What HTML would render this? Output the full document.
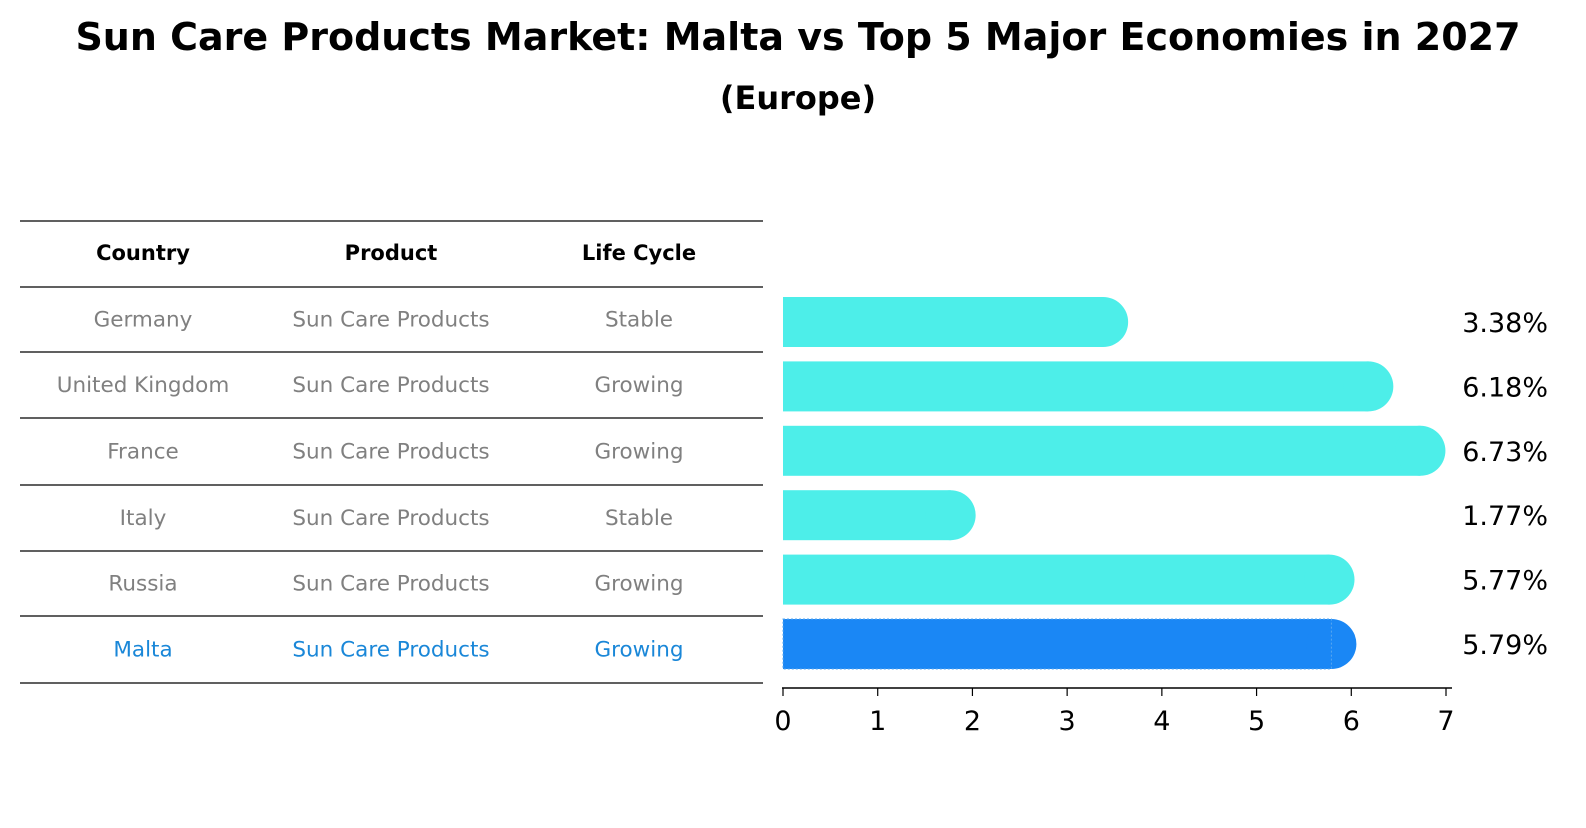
<!DOCTYPE html>
<html><head><meta charset="utf-8"><style>
body{margin:0;background:#fff;width:1586px;height:823px;overflow:hidden}
svg{font-family:"DejaVu Sans","Liberation Sans",sans-serif}
</style></head><body>
<svg width="1586" height="823" xmlns="http://www.w3.org/2000/svg">
<text x="798" y="50" text-anchor="middle" font-size="38" font-weight="bold">Sun Care Products Market: Malta vs Top 5 Major Economies in 2027</text>
<text x="798" y="109" text-anchor="middle" font-size="32" font-weight="bold">(Europe)</text>
<g id="table"></g>
<g id="bars"></g>
<g id="axis"></g>
</svg>
<script>
const countries=["Germany","United Kingdom","France","Italy","Russia","Malta"];
const products=["Sun Care Products","Sun Care Products","Sun Care Products","Sun Care Products","Sun Care Products","Sun Care Products"];
const lifecycles=["Stable","Growing","Growing","Stable","Growing","Growing"];
const values=[3.38,6.18,6.73,1.77,5.77,5.79];
const ticks=[0,1,2,3,4,5,6,7];
const NS="http://www.w3.org/2000/svg";
function mk(t,a,p,txt){const e=document.createElementNS(NS,t);for(const k in a)e.setAttribute(k,a[k]);if(txt!==undefined)e.textContent=txt;p.appendChild(e);return e;}
const x=v=>783+v*(1446-783)/7;
const rowY=i=>322+i*64.4;
const tbl=document.getElementById('table');
const lines=[221,287,352,418,485,551,616,683];
lines.forEach((y,i)=>{const l=mk('line',{x1:20,x2:763,y1:y,y2:y,stroke:'#000','stroke-width':1.2},tbl);

});
const cx=[143,391,639];
["Country","Product","Life Cycle"].forEach((h,j)=>{const t=mk('text',{x:cx[j],y:260,'text-anchor':'middle','font-size':21,'font-weight':'bold'},tbl,h);

});
countries.forEach((c,i)=>{const col=i===5?'#1a87d8':'#808080';const y=(lines[i+1]+lines[i+2])/2+7;
[c,products[i],lifecycles[i]].forEach((v,j)=>{const t=mk('text',{x:cx[j],y:y,'text-anchor':'middle','font-size':21.5,fill:col},tbl,v);

});});
const bars=document.getElementById('bars');
values.forEach((v,i)=>{const cy=rowY(i),h=50,col=i===5?'#1a87f5':'#4deee9';
const g=mk('g',{},bars);


mk('rect',{x:x(0),y:cy-h/2,width:x(v)-x(0),height:h,fill:col},g);
mk('circle',{cx:x(v),cy:cy,r:h/2,fill:col},g);
if(i===5)mk('rect',{x:x(0),y:cy-h/2,width:x(v)-x(0),height:h,fill:'none',stroke:'#5aa8f0','stroke-dasharray':'2 2','stroke-width':1},g);
const t=mk('text',{x:1548,y:cy+10,'text-anchor':'end','font-size':27},bars,v.toFixed(2)+'%');

});
const ax=document.getElementById('axis');
mk('line',{x1:782,x2:1452,y1:688,y2:688,stroke:'#000','stroke-width':1.5},ax);
ticks.forEach(t=>{mk('line',{x1:x(t),x2:x(t),y1:688,y2:696,stroke:'#000','stroke-width':1.2},ax);
const l=mk('text',{x:x(t),y:730,'text-anchor':'middle','font-size':27},ax,t);

});
</script>
</body></html>
